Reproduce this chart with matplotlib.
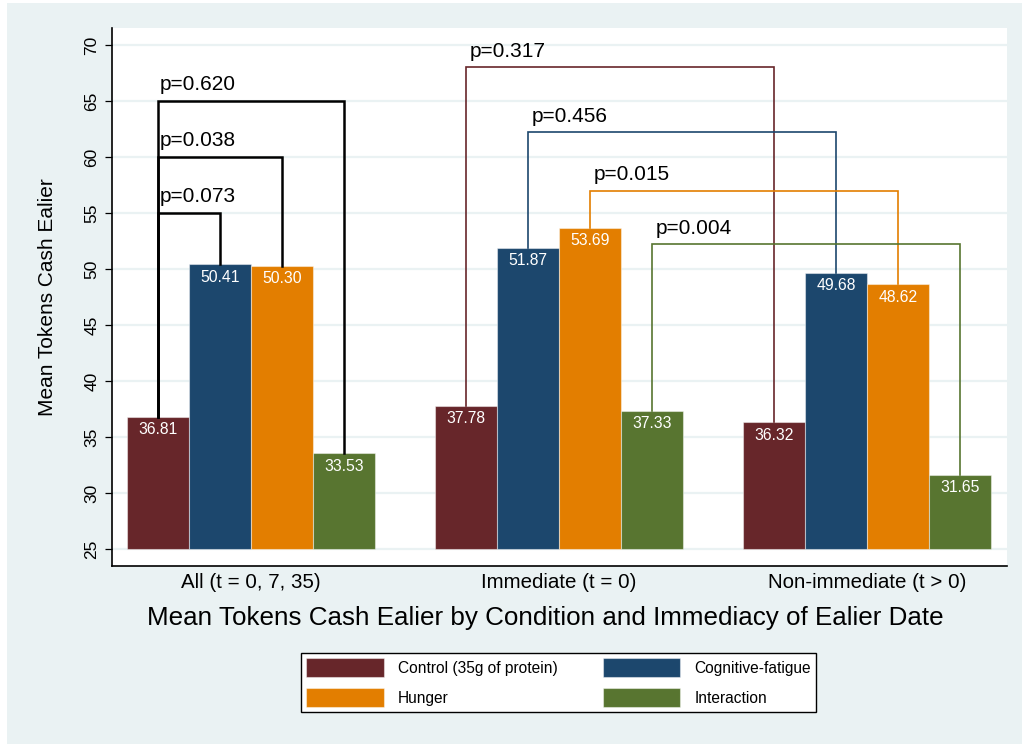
import numpy as np
import matplotlib
matplotlib.use("Agg")
import matplotlib.pyplot as plt
from matplotlib.patches import Patch, Rectangle

plt.rcParams["font.family"] = ["Liberation Sans", "DejaVu Sans"]

# data
groups = ["All (t = 0, 7, 35)", "Immediate (t = 0)", "Non-immediate (t > 0)"]
conditions = ["Control (35g of protein)", "Cognitive-fatigue", "Hunger", "Interaction"]
control = [36.81, 37.78, 36.32]
cognitive = [50.41, 51.87, 49.68]
hunger = [50.30, 53.69, 48.62]
interaction = [33.53, 37.33, 31.65]

# p-values within the pooled group: control vs each treatment
p_all = ["p=0.073", "p=0.038", "p=0.620"]
p_all_levels = [55, 60, 65]
# p-values immediate vs non-immediate, per condition
p_imm = ["p=0.317", "p=0.456", "p=0.015", "p=0.004"]
p_imm_levels = [68, 62.2, 57, 52.2]

colors = ["#67262a", "#1c476d", "#e37e00", "#587530"]
bg = "#eaf2f3"
base = 25

fig = plt.figure(figsize=(10.22, 7.44), dpi=100)
fig.patch.set_facecolor("white")
fig.patches.append(Rectangle((0.007, 0.0), 0.993, 0.996, transform=fig.transFigure,
                             facecolor=bg, edgecolor="none", zorder=-10))

ax = fig.add_axes([112 / 1022, 1 - 566 / 744, 895 / 1022, 538 / 744])
ax.set_facecolor("white")

series = [control, cognitive, hunger, interaction]
x = np.arange(len(groups))
w = 0.2013
offsets = (np.arange(4) - 1.5) * w

for i, vals in enumerate(series):
    heights = np.array(vals) - base
    ax.bar(x + offsets[i], heights, width=w, bottom=base, color=colors[i],
           edgecolor=(1, 1, 1, 0.45), linewidth=0.8, zorder=3)
    for xi, v in zip(x + offsets[i], vals):
        ax.text(xi, v - 1.15, f"{v:.2f}", color="white", ha="center", va="center",
                fontsize=11.3, zorder=5)

# brackets, pooled group: control -> each treatment
x0 = x[0] + offsets[0]
for j, (lab, lev) in enumerate(zip(p_all, p_all_levels)):
    xt = x[0] + offsets[j + 1]
    yt = series[j + 1][0]
    ax.plot([x0, x0, xt, xt], [control[0], lev, lev, yt], color="black",
            lw=1.8, zorder=4, solid_joinstyle="miter")
    ax.text(x0 + 0.005, lev + 0.6, lab, fontsize=15, ha="left", va="bottom", zorder=5)

# brackets, immediate vs non-immediate for each condition
for i, (lab, lev) in enumerate(zip(p_imm, p_imm_levels)):
    xa = x[1] + offsets[i]
    xb = x[2] + offsets[i]
    ax.plot([xa, xa, xb, xb], [series[i][1], lev, lev, series[i][2]],
            color=colors[i], lw=1.2, zorder=4, solid_joinstyle="miter")
    ax.text(xa + 0.012, lev + 0.6, lab, fontsize=15, ha="left", va="bottom", zorder=5)

ax.set_xlim(-0.4513, 2.4545)
ax.set_ylim(23.48, 71.52)
ax.set_yticks(np.arange(25, 71, 5))
ax.set_yticklabels([str(t) for t in range(25, 71, 5)], rotation=90, va="center",
                   fontsize=12.5)
ax.set_xticks(x)
ax.set_xticklabels(groups, fontsize=14.8)
ax.tick_params(axis="x", length=0, pad=5)
ax.tick_params(axis="y", length=5, width=0.9, pad=4)
ax.grid(axis="y", color=bg, lw=1.6, zorder=0)
ax.set_axisbelow(True)
for s in ["top", "right"]:
    ax.spines[s].set_visible(False)
for s in ["left", "bottom"]:
    ax.spines[s].set_linewidth(1.2)

ax.set_ylabel("Mean Tokens Cash Ealier", fontsize=15)
ax.yaxis.set_label_coords(-0.0615, 0.5)

fig.text(545 / 1022, 1 - 618 / 744,
         "Mean Tokens Cash Ealier by Condition and Immediacy of Ealier Date",
         ha="center", va="center", fontsize=18.7)

handles = [Patch(facecolor=c, edgecolor=(1, 1, 1, 0.45), lw=0.8) for c in colors]
order = [0, 2, 1, 3]
leg = fig.legend([handles[k] for k in order], [conditions[k] for k in order],
                 loc="center", bbox_to_anchor=(558.5 / 1022, 1 - 682.5 / 744),
                 ncol=2, fontsize=11.2, handlelength=5.0, handleheight=1.45,
                 handletextpad=0.9, columnspacing=2.9, labelspacing=0.75,
                 borderpad=0.35, fancybox=False, frameon=True, framealpha=1)
leg.get_frame().set_edgecolor("black")
leg.get_frame().set_linewidth(1.0)
leg.get_frame().set_facecolor("white")

fig.savefig("out.png", dpi=100, facecolor=fig.get_facecolor())
